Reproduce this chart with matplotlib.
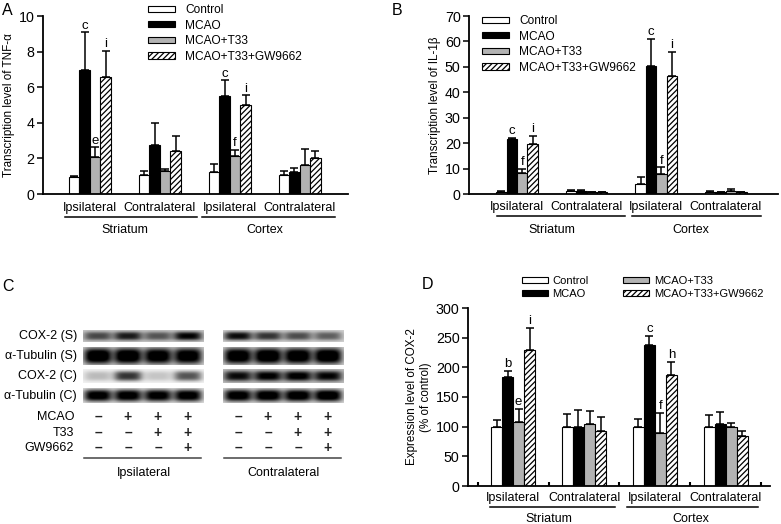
import numpy as np
import matplotlib
matplotlib.use('Agg')
import matplotlib.pyplot as plt
from matplotlib.lines import Line2D

plt.rcParams['font.family'] = ['Liberation Sans', 'DejaVu Sans']
plt.rcParams['hatch.linewidth'] = 0.9

W, H = 781, 524

# categories
sides = ['Ipsilateral', 'Contralateral', 'Ipsilateral', 'Contralateral']
regions = ['Striatum', 'Cortex']
treatments = ['Control', 'MCAO', 'MCAO+T33', 'MCAO+T33+GW9662']

# A: TNF-alpha transcription (rows = treatment, cols = side/region)
tnf_mean = [[0.93, 1.07, 1.24, 1.07],
            [6.95, 2.73, 5.50, 1.22],
            [2.10, 1.27, 2.15, 1.65],
            [6.60, 2.42, 4.98, 2.04]]
tnf_err = [[0.07, 0.23, 0.45, 0.22],
           [2.13, 1.26, 0.89, 0.26],
           [0.52, 0.12, 0.32, 0.90],
           [1.45, 0.84, 0.56, 0.38]]
tnf_sig = {(1, 0): 'c', (2, 0): 'e', (3, 0): 'i', (1, 2): 'c', (2, 2): 'f', (3, 2): 'i'}

# B: IL-1beta transcription
il1_mean = [[0.8, 1.2, 3.8, 0.8],
            [21.7, 1.2, 50.4, 0.6],
            [8.1, 0.7, 8.0, 1.0],
            [19.8, 0.6, 46.3, 0.6]]
il1_err = [[0.3, 0.4, 2.7, 0.2],
           [0.3, 0.3, 10.5, 0.2],
           [1.9, 0.2, 2.5, 1.0],
           [3.1, 0.2, 9.5, 0.2]]
il1_sig = {(1, 0): 'c', (2, 0): 'f', (3, 0): 'i', (1, 2): 'c', (2, 2): 'f', (3, 2): 'i'}

# D: COX-2 protein expression (% of control)
cox_mean = [[100, 100, 100, 100],
            [183, 99, 238, 104],
            [108, 105, 89, 100],
            [229, 92, 187, 84]]
cox_err = [[11, 21, 13, 19],
           [11, 29, 15, 21],
           [22, 22, 34, 6],
           [37, 24, 22, 9]]
cox_sig = {(1, 0): 'b', (2, 0): 'e', (3, 0): 'i', (1, 2): 'c', (2, 2): 'f', (3, 2): 'h'}

# C: western blot band darkness (0 = white, 1 = black), 4 lanes per blot
blot_rows = ['COX-2 (S)', 'α-Tubulin (S)', 'COX-2 (C)', 'α-Tubulin (C)']
ipsi_bands = [[0.50, 0.68, 0.45, 0.78],
              [1.00, 1.00, 0.95, 0.95],
              [0.22, 0.75, 0.18, 0.62],
              [0.97, 0.97, 0.95, 0.97]]
contra_bands = [[0.78, 0.62, 0.52, 0.45],
                [0.97, 1.00, 0.97, 1.00],
                [0.72, 0.78, 0.80, 0.75],
                [0.95, 0.97, 0.97, 1.00]]
ipsi_bg = [0.22, 0.18, 0.05, 0.12]
contra_bg = [0.18, 0.18, 0.25, 0.15]
sign_rows = ['MCAO', 'T33', 'GW9662']
signs = [['–', '+', '+', '+'],
         ['–', '–', '+', '+'],
         ['–', '–', '–', '+']]

styles = [dict(color='white', edgecolor='black'),
          dict(color='black', edgecolor='black'),
          dict(color='#b3b3b3', edgecolor='black'),
          dict(color='white', edgecolor='black', hatch='//////')]

FS = 9.0

fig = plt.figure(figsize=(W / 100, H / 100), dpi=100)


def px_axes(l, t, r, b):
    return fig.add_axes([l / W, 1 - b / H, (r - l) / W, (b - t) / H])


def bar_panel(ax, means, errs, sig, width, ymax, ystep, ylabel, xlim, lab_y, lines):
    x = np.arange(4)
    offs = (np.arange(4) - 1.5) * width
    for i, t in enumerate(treatments):
        ax.bar(x + offs[i], means[i], width, label=t, linewidth=0.8, zorder=2, **styles[i])
        ax.errorbar(x + offs[i], means[i], yerr=[np.zeros(4), errs[i]], fmt='none',
                    ecolor='black', elinewidth=1.1, capsize=2.6, capthick=1.1, zorder=1)
    for (i, g), s in sig.items():
        ax.annotate(s, (g + offs[i], means[i][g] + errs[i][g]), xytext=(0, 0.5),
                    textcoords='offset points', ha='center', va='bottom', fontsize=9.5)
    ax.set_ylim(0, ymax)
    ax.set_xlim(*xlim)
    ax.set_yticks(np.arange(0, ymax + 1, ystep))
    ax.set_xticks([])
    ax.spines[['top', 'right']].set_visible(False)
    ax.spines[['left', 'bottom']].set_linewidth(1.3)
    ax.tick_params(axis='y', labelsize=10.3, length=4, width=1.1, pad=2)
    ax.set_ylabel(ylabel, fontsize=8.4, labelpad=3)
    tr = ax.get_xaxis_transform()
    for g, s in enumerate(sides):
        ax.text(g, lab_y[0], s, transform=tr, ha='center', va='center', fontsize=FS)
    for k, r in enumerate(regions):
        a, b = lines[k]
        ax.add_line(Line2D([a, b], [lab_y[1], lab_y[1]], transform=tr, color='black',
                           lw=1.1, clip_on=False))
        ax.text(2 * k + 0.5, lab_y[2], r, transform=tr, ha='center',
                va='center', fontsize=FS)


leg_kw = dict(bbox_transform=fig.transFigure, frameon=False, fontsize=8.6,
              handlelength=2.3, handleheight=0.42, handletextpad=0.8,
              borderpad=0, borderaxespad=0)

# Panel A
axA = px_axes(43, 16, 348, 194)
bar_panel(axA, tnf_mean, tnf_err, tnf_sig, 0.15, 10, 2, 'Transcription level of TNF-α',
          (-0.67, 3.69), (-0.079, -0.129, -0.202), [(-0.36, 1.53), (1.61, 3.5)])
axA.legend(loc='upper left', bbox_to_anchor=(148 / W, 1 - 4 / H), labelspacing=0.3, **leg_kw)

# Panel B
axB = px_axes(469, 16, 778, 194)
bar_panel(axB, il1_mean, il1_err, il1_sig, 0.15, 70, 10, 'Transcription level of IL-1β',
          (-0.69, 3.75), (-0.073, -0.124, -0.202), [(-0.29, 1.55), (1.65, 3.5)])
axB.legend(loc='upper left', bbox_to_anchor=(482 / W, 1 - 15 / H), labelspacing=0.3, **leg_kw)

# Panel D
axD = px_axes(468, 308, 770, 486)
bar_panel(axD, cox_mean, cox_err, cox_sig, 0.155, 300, 50,
          'Expression level of COX-2\n(% of control)',
          (-0.634, 3.62), (-0.067, -0.118, -0.183), [(-0.32, 1.44), (1.61, 3.45)])
axD.set_xticks([-0.5, 0.5, 1.5, 2.5, 3.5])
axD.set_xticklabels([])
axD.tick_params(axis='x', direction='in', length=3, width=1.5)
leg_kw.update(fontsize=8.0, handletextpad=0.45)
axD.legend(loc='upper left', bbox_to_anchor=(522 / W, 1 - 276 / H), ncol=2,
           labelspacing=0.25, columnspacing=3.1, **leg_kw)

# Panel C: western blot drawn in pixel coordinates
axC = px_axes(0, 270, 390, 524)
axC.axis('off')

row_spans = [(330, 342), (347, 365), (369, 383), (388, 403)]
band_h = [0.36, 0.44, 0.36, 0.40]
blots = [(83, ipsi_bands, ipsi_bg, 'Ipsilateral'), (223, contra_bands, contra_bg, 'Contralateral')]
strip_w, pitch = 121, 30
for x0, bands, bgs, name in blots:
    lanes = x0 + 15 + pitch * np.arange(4)
    xs = np.linspace(x0, x0 + strip_w, strip_w * 4)
    for r, (y0, y1) in enumerate(row_spans):
        ys = np.linspace(y0, y1, (y1 - y0) * 4)
        yc = (y0 + y1) / 2
        hh = (y1 - y0) * band_h[r]
        img = np.full((len(ys), len(xs)), bgs[r])
        for lc, val in zip(lanes, bands[r]):
            img += val * np.exp(-(np.abs(xs[None, :] - lc) / 14.0) ** 4) * \
                np.exp(-(np.abs(ys[:, None] - yc) / hh) ** 3)
        axC.imshow(np.clip(img, 0, 1), cmap='gray_r', vmin=0, vmax=1, aspect='auto',
                   extent=(x0, x0 + strip_w, y1, y0), interpolation='bilinear')
    for k in range(3):
        for lc, s in zip(lanes, signs[k]):
            axC.text(lc, 417 + 15.5 * k, s, ha='center', va='center', fontsize=10,
                     fontweight='bold', color='#222222')
    axC.add_line(Line2D([x0 + 1, x0 + strip_w - 3], [458, 458], color='#444444', lw=1.1))
    axC.text(x0 + strip_w / 2, 473, name, ha='center', va='center', fontsize=FS)

for r, (y0, y1) in enumerate(row_spans):
    axC.text(77, (y0 + y1) / 2, blot_rows[r], ha='right', va='center', fontsize=9.0)
for k, s in enumerate(sign_rows):
    axC.text(74, 417 + 15.5 * k, s, ha='right', va='center', fontsize=9.0)
axC.set_xlim(0, 390)
axC.set_ylim(524, 270)

# panel letters
for lx, ly, lt in [(2, 3, 'A'), (392, 3, 'B'), (2, 279, 'C'), (422, 277, 'D')]:
    fig.text(lx / W, 1 - ly / H, lt, ha='left', va='top', fontsize=11.5)

fig.savefig('out.png', dpi=100)
